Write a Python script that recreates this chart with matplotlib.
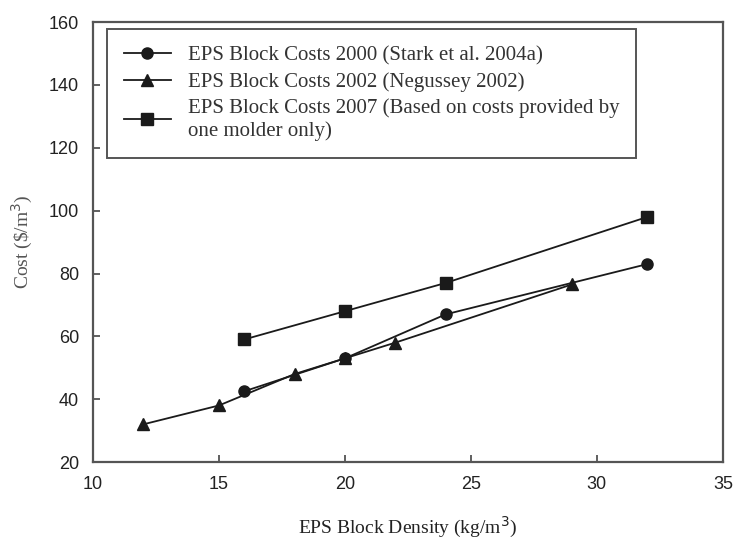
import matplotlib.pyplot as plt

# Data
density_2000 = [16, 20, 24, 32]
cost_2000 = [42.5, 53, 67, 83]

density_2002 = [12, 15, 18, 20, 22, 29]
cost_2002 = [32, 38, 48, 53, 58, 76.5]

density_2007 = [16, 20, 24, 32]
cost_2007 = [59, 68, 77, 98]

labels = [
    "EPS Block Costs 2000 (Stark et al. 2004a)",
    "EPS Block Costs 2002 (Negussey 2002)",
    "EPS Block Costs 2007 (Based on costs provided by\none molder only)",
]

x_ticks = [10, 15, 20, 25, 30, 35]
y_ticks = [20, 40, 60, 80, 100, 120, 140, 160]

serif = "Liberation Serif"
sans = "Liberation Sans"
line_color = "#1a1a1a"

fig = plt.figure(figsize=(7.35, 5.4), dpi=100)
ax = fig.add_axes([0.1265, 0.1444, 0.857, 0.8146])

ax.plot(density_2000, cost_2000, marker="o", markersize=8, color=line_color,
        linewidth=1.3, label=labels[0])
ax.plot(density_2002, cost_2002, marker="^", markersize=8, color=line_color,
        linewidth=1.3, label=labels[1])
ax.plot(density_2007, cost_2007, marker="s", markersize=8, color=line_color,
        linewidth=1.3, label=labels[2])

ax.set_xlim(10, 35)
ax.set_ylim(20, 160)
ax.set_xticks(x_ticks)
ax.set_yticks(y_ticks)
ax.tick_params(direction="in", length=5, width=1.2, colors="#444444",
               labelsize=13, pad=10)
for lbl in ax.get_xticklabels() + ax.get_yticklabels():
    lbl.set_family(sans)
    lbl.set_color("#222222")
for spine in ax.spines.values():
    spine.set_color("#555555")
    spine.set_linewidth(1.6)

ax.set_xlabel("EPS Block Density (kg/m$^3$)", family=serif, fontsize=14,
              labelpad=16, color="#222222")
ax.set_ylabel("Cost (\\$/m$^3$)", family=serif, fontsize=14,
              labelpad=10, color="#555555")

leg = ax.legend(loc="upper left", bbox_to_anchor=(0.022, 0.984),
                borderaxespad=0, fancybox=False, framealpha=1,
                edgecolor="#555555", prop={"family": serif, "size": 15},
                handlelength=2.3, labelspacing=0.32, borderpad=0.8)
leg.get_frame().set_linewidth(1.4)
for t in leg.get_texts():
    t.set_color("#333333")

fig.savefig("out.png", dpi=100)
